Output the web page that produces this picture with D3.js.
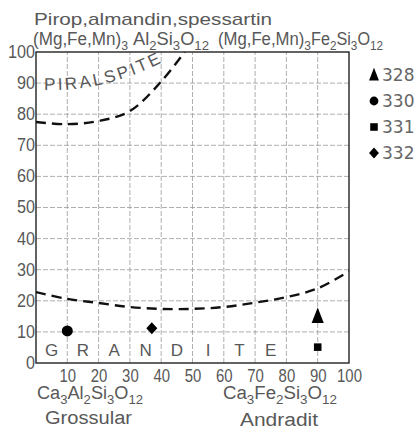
<!DOCTYPE html>
<html><head><meta charset="utf-8">
<script src="https://cdn.jsdelivr.net/npm/d3@7"></script>
<style>
html,body{margin:0;padding:0;background:#fff;}
svg{display:block;}
.t{font-family:"Liberation Sans","DejaVu Sans",sans-serif;fill:#585858;}
</style></head>
<body><svg id="c" width="418" height="427"></svg>
<script>
const xTicks = [10,20,30,40,50,60,70,80,90,100];
const yTicks = [0,10,20,30,40,50,60,70,80,90,100];
const upperCurve = [[0,77.5],[10,76.8],[20,77.8],[30,81],[40,90.5],[47.5,100]];
const lowerCurve = [[0,22.8],[10,20.6],[20,19.3],[30,18],[40,17.4],[50,17.4],[60,18],[70,19.4],[80,21.2],[90,24],[100,29.5]];
const samples = [
  {id:"328", shape:"triangle", x:90, y:15},
  {id:"330", shape:"circle",   x:10, y:10.3},
  {id:"331", shape:"square",   x:90, y:5.1},
  {id:"332", shape:"diamond",  x:37, y:11.2}
];
const granditeLetters = ["G","R","A","N","D","I","T","E"];

const svg = d3.select("#c");
const x = d3.scaleLinear().domain([0,100]).range([36,349]);
const y = d3.scaleLinear().domain([0,100]).range([363,52]);

// grid
const g = svg.append("g");
g.selectAll(".gv").data(d3.range(10,100,10)).join("line")
  .attr("x1",d=>x(d)).attr("x2",d=>x(d)).attr("y1",y(0)).attr("y2",y(100))
  .attr("stroke","#9a9a9a").attr("stroke-width",0.8).attr("stroke-dasharray","5,2");
g.selectAll(".gh").data(d3.range(10,100,10)).join("line")
  .attr("y1",d=>y(d)).attr("y2",d=>y(d)).attr("x1",x(0)).attr("x2",x(100))
  .attr("stroke","#9a9a9a").attr("stroke-width",0.8).attr("stroke-dasharray","5,2");

// frame
svg.append("rect").attr("x",x(0)).attr("y",y(100)).attr("width",x(100)-x(0)).attr("height",y(0)-y(100))
  .attr("fill","none").attr("stroke","#222").attr("stroke-width",1.4);

// axes labels
const xAxis = d3.axisBottom(x).tickValues(xTicks).tickSize(0).tickPadding(6);
const xa = svg.append("g").attr("transform",`translate(0,${y(0)})`).call(xAxis);
xa.select(".domain").remove();
xa.selectAll("text").attr("class","t").attr("font-size",19).attr("dy","0").attr("y",19)
  .attr("textLength",d=>String(d).length*8.3).attr("lengthAdjust","spacingAndGlyphs");

const yAxis = d3.axisLeft(y).tickValues(yTicks).tickSize(0).tickPadding(1);
const ya = svg.append("g").attr("transform",`translate(${x(0)},0)`).call(yAxis);
ya.select(".domain").remove();
ya.selectAll("text").attr("class","t").attr("font-size",18).attr("dy","0.3em")
  .attr("textLength",d=>String(d).length*9).attr("lengthAdjust","spacingAndGlyphs");

// clip
svg.append("clipPath").attr("id","pc").append("rect")
  .attr("x",x(0)).attr("y",y(100)).attr("width",x(100)-x(0)).attr("height",y(0)-y(100));

const line = d3.line().x(d=>x(d[0])).y(d=>y(d[1])).curve(d3.curveCatmullRom);
[upperCurve, lowerCurve].forEach(c=>{
  svg.append("path").attr("d",line(c)).attr("clip-path","url(#pc)")
    .attr("fill","none").attr("stroke","#111").attr("stroke-width",2.4).attr("stroke-dasharray","10,6");
});

// GRANDITE letters
svg.selectAll(".gl").data(granditeLetters).join("text").attr("class","t")
  .attr("x",(d,i)=>x(i*10+5)).attr("y",y(0)-7).attr("text-anchor","middle")
  .attr("font-size",17).text(d=>d);

// PIRALSPITE along curve
svg.append("path").attr("id","pp").attr("d","M44,90 Q108,92 170,58").attr("fill","none");
svg.append("text").attr("class","t").attr("font-size",17)
  .append("textPath").attr("href","#pp").attr("textLength",122).attr("lengthAdjust","spacing")
  .text("PIRALSPITE");

// markers
function drawShape(sel, shape, cx, cy, s){
  if(shape==="circle") sel.append("circle").attr("cx",cx).attr("cy",cy).attr("r",s*0.55).attr("fill","#000");
  else if(shape==="square") sel.append("rect").attr("x",cx-s*0.42).attr("y",cy-s*0.42).attr("width",s*0.84).attr("height",s*0.84).attr("fill","#000");
  else if(shape==="triangle") sel.append("path").attr("d",`M${cx},${cy-s*0.8}L${cx+s*0.55},${cy+s*0.6}L${cx-s*0.55},${cy+s*0.6}Z`).attr("fill","#000");
  else sel.append("path").attr("d",`M${cx},${cy-s*0.6}L${cx+s*0.55},${cy}L${cx},${cy+s*0.6}L${cx-s*0.55},${cy}Z`).attr("fill","#000");
}
const mk = svg.append("g");
samples.forEach(s=>drawShape(mk, s.shape, x(s.x), y(s.y), s.shape==="triangle"?11:(s.shape==="square"?9:10)));

// legend
const lg = svg.append("g");
samples.forEach((s,i)=>{
  const ly = 75 + i*26;
  drawShape(lg, s.shape, 374, ly, s.shape==="triangle"?9:(s.shape==="circle"?8:9));
  lg.append("text").attr("x",382).attr("y",ly+6).attr("font-family","DejaVu Sans, sans-serif")
    .attr("font-size",17).attr("fill","#666").text(s.id);
});

// formulas with subscripts
function formula(parent, xx, yy, parts, fs, len){
  const t = parent.append("text").attr("class","t").attr("x",xx).attr("y",yy).attr("font-size",fs);
  parts.forEach(p=>{
    t.append("tspan").attr("y", p[1] ? yy + fs*0.3 : yy).attr("font-size",p[1]?fs*0.72:fs).text(p[0]);
  });
  if(len) t.attr("textLength",len).attr("lengthAdjust","spacingAndGlyphs");
  return t;
}
svg.append("text").attr("class","t").attr("x",34).attr("y",25).attr("font-size",17)
  .attr("textLength",238).attr("lengthAdjust","spacingAndGlyphs").text("Pirop,almandin,spessartin");
formula(svg,33,45,[["(Mg,Fe,Mn)",0],["3",1]],18,95);
formula(svg,133,45,[["Al",0],["2",1],["Si",0],["3",1],["O",0],["12",1]],18,76);
formula(svg,218,45,[["(Mg,Fe,Mn)",0],["3",1]],18,93);
formula(svg,311,45,[["Fe",0],["2",1],["Si",0],["3",1],["O",0],["12",1]],18,72);

formula(svg,37,399,[["Ca",0],["3",1],["Al",0],["2",1],["Si",0],["3",1],["O",0],["12",1]],18,106);
svg.append("text").attr("class","t").attr("x",45).attr("y",424).attr("font-size",18)
  .attr("textLength",87).attr("lengthAdjust","spacingAndGlyphs").text("Grossular");
formula(svg,223,399,[["Ca",0],["3",1],["Fe",0],["2",1],["Si",0],["3",1],["O",0],["12",1]],18,114);
svg.append("text").attr("class","t").attr("x",240).attr("y",426).attr("font-size",18)
  .attr("textLength",78).attr("lengthAdjust","spacingAndGlyphs").text("Andradit");
</script></body></html>
